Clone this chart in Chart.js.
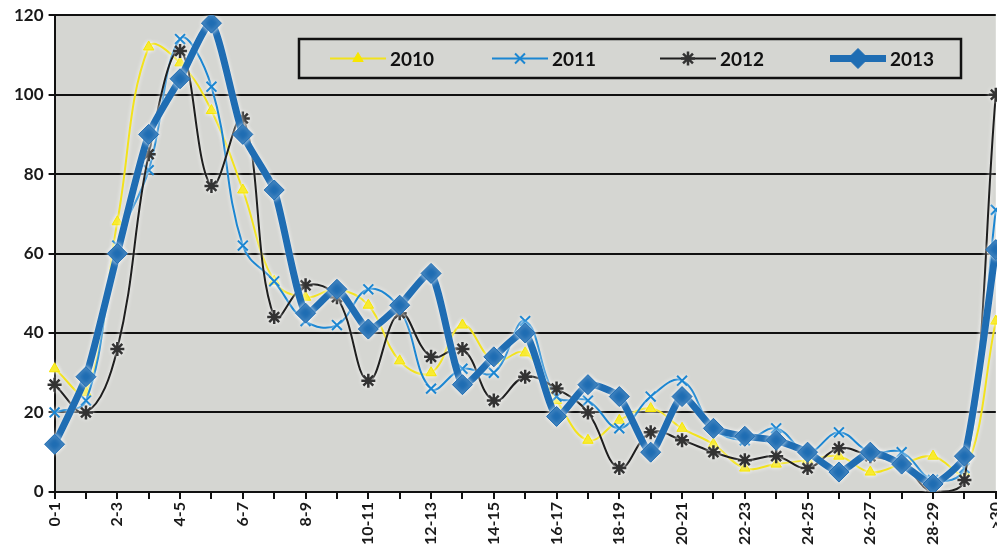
<!DOCTYPE html>
<html lang="en">
<head>
    <meta charset="UTF-8">
    <title>2010-2013</title>
    <script src="https://cdn.jsdelivr.net/npm/chart.js"></script>
    <style>
        body {
            margin: 0;
            padding: 0;
            background-color: #fff;
            overflow: hidden;
        }
        canvas {
            display: block;
        }
    </style>
</head>
<body>

<canvas id="mainCanvas" width="1018" height="553"></canvas>

<script>
    // age groups (hours)
    const categories = ['0-1', '1-2', '2-3', '3-4', '4-5', '5-6', '6-7', '7-8', '8-9', '9-10',
        '10-11', '11-12', '12-13', '13-14', '14-15', '15-16', '16-17', '17-18', '18-19', '19-20',
        '20-21', '21-22', '22-23', '23-24', '24-25', '25-26', '26-27', '27-28', '28-29', '29-30', '>30'];

    const values2010 = [31, 25, 68, 112, 108, 96, 76, 53, 49, 51, 47, 33, 30, 42, 33, 35, 23, 13, 18, 21,
        16, 12, 6, 7, 8, 9, 5, 7, 9, 5, 43];
    const values2011 = [20, 23, 62, 81, 114, 102, 62, 53, 43, 42, 51, 46, 26, 31, 30, 43, 24, 23, 16, 24,
        28, 16, 13, 16, 10, 15, 10, 10, 3, 6, 71];
    const values2012 = [27, 20, 36, 85, 111, 77, 94, 44, 52, 49, 28, 45, 34, 36, 23, 29, 26, 20, 6, 15,
        13, 10, 8, 9, 6, 11, 9, 7, 0, 3, 100];
    const values2013 = [12, 29, 60, 90, 104, 118, 90, 76, 45, 51, 41, 47, 55, 27, 34, 40, 19, 27, 24, 10,
        24, 16, 14, 13, 10, 5, 10, 7, 2, 9, 61];

    const yTicks = [0, 20, 40, 60, 80, 100, 120];

    const tickFont = { family: 'Lato', weight: 'bold', size: 16 };

    // grey plot area
    const plotBackground = {
        id: 'plotBackground',
        beforeDraw(chart) {
            const { ctx, chartArea } = chart;
            ctx.save();
            ctx.fillStyle = '#d5d6d2';
            ctx.fillRect(chartArea.left, chartArea.top, chartArea.right - chartArea.left, chartArea.bottom - chartArea.top);
            ctx.restore();
        }
    };

    // light halo around the series lines
    const lineHalo = {
        id: 'lineHalo',
        beforeDatasetDraw(chart) {
            chart.ctx.save();
            chart.ctx.shadowColor = 'rgba(255, 255, 255, 0.9)';
            chart.ctx.shadowBlur = 4;
        },
        afterDatasetDraw(chart) {
            chart.ctx.restore();
        }
    };

    // framed legend inside the plot
    const legendBox = {
        id: 'legendBox',
        afterDraw(chart) {
            const ctx = chart.ctx;
            const boxLeft = 299, boxTop = 39, boxWidth = 662, boxHeight = 39;
            const startX = [330, 492, 660, 830];
            const lineLen = 56;
            const midY = boxTop + boxHeight / 2;

            ctx.save();
            ctx.fillStyle = '#d5d6d2';
            ctx.fillRect(boxLeft, boxTop, boxWidth, boxHeight);
            ctx.strokeStyle = '#111';
            ctx.lineWidth = 2.5;
            ctx.strokeRect(boxLeft, boxTop, boxWidth, boxHeight);

            chart.data.datasets.forEach((ds, i) => {
                const x = startX[i];
                ctx.strokeStyle = ds.borderColor;
                ctx.lineWidth = ds.borderWidth;
                ctx.beginPath();
                ctx.moveTo(x, midY);
                ctx.lineTo(x + lineLen, midY);
                ctx.stroke();

                ctx.fillStyle = ds.pointBackgroundColor;
                ctx.strokeStyle = ds.pointBorderColor;
                ctx.lineWidth = ds.pointBorderWidth;
                Chart.helpers.drawPoint(ctx, {
                    pointStyle: ds.pointStyle,
                    radius: ds.pointRadius,
                    borderWidth: ds.pointBorderWidth,
                    rotation: 0
                }, x + lineLen / 2, midY);

                ctx.fillStyle = '#111';
                ctx.font = 'bold 19px Lato';
                ctx.textBaseline = 'middle';
                ctx.fillText(ds.label, x + lineLen + 4, midY + 1);
            });
            ctx.restore();
        }
    };

    const ctx = document.getElementById('mainCanvas').getContext('2d');
    new Chart(ctx, {
        type: 'line',
        data: {
            labels: categories,
            datasets: [
                {
                    label: '2010',
                    data: values2010,
                    borderColor: '#f2e21c',
                    borderWidth: 2,
                    pointStyle: 'triangle',
                    pointRadius: 6,
                    pointBackgroundColor: '#f7e600',
                    pointBorderColor: '#f7e600',
                    pointBorderWidth: 1,
                    tension: 0.4,
                    order: 4
                },
                {
                    label: '2011',
                    data: values2011,
                    borderColor: '#1b86d2',
                    borderWidth: 2,
                    pointStyle: 'crossRot',
                    pointRadius: 7,
                    pointBackgroundColor: '#1b86d2',
                    pointBorderColor: '#1b86d2',
                    pointBorderWidth: 2,
                    tension: 0.4,
                    order: 3
                },
                {
                    label: '2012',
                    data: values2012,
                    borderColor: '#1e1e1e',
                    borderWidth: 2,
                    pointStyle: 'star',
                    pointRadius: 7,
                    pointBackgroundColor: '#333',
                    pointBorderColor: '#333',
                    pointBorderWidth: 2.5,
                    tension: 0.4,
                    order: 2
                },
                {
                    label: '2013',
                    data: values2013,
                    borderColor: '#1f6db3',
                    borderWidth: 7,
                    pointStyle: 'rectRot',
                    pointRadius: 10,
                    pointBackgroundColor: '#1f6db3',
                    pointBorderColor: '#1f6db3',
                    pointBorderWidth: 1,
                    tension: 0.2,
                    order: 1
                }
            ]
        },
        options: {
            responsive: false,
            animation: false,
            layout: {
                padding: { left: 9, top: 8, right: 0, bottom: 5 }
            },
            plugins: {
                legend: { display: false },
                tooltip: { enabled: false }
            },
            scales: {
                x: {
                    offset: false,
                    grid: { drawOnChartArea: false, color: '#111', lineWidth: 2, tickLength: 7 },
                    border: { color: '#111', width: 2 },
                    ticks: {
                        autoSkip: false,
                        minRotation: 90,
                        maxRotation: 90,
                        padding: 3,
                        color: '#1a1a1a',
                        font: tickFont,
                        callback: function (value, index) {
                            return index % 2 === 0 ? categories[index] : '';
                        }
                    }
                },
                y: {
                    min: yTicks[0],
                    max: yTicks[yTicks.length - 1],
                    afterBuildTicks: (axis) => {
                        axis.ticks = yTicks.map(v => ({ value: v }));
                    },
                    grid: { color: '#111', lineWidth: 2, tickLength: 6 },
                    border: { color: '#111', width: 2 },
                    ticks: {
                        padding: 5,
                        color: '#1a1a1a',
                        font: { family: 'Lato', weight: 'bold', size: 17 }
                    }
                }
            }
        },
        plugins: [plotBackground, lineHalo, legendBox]
    });
</script>
</body>
</html>
